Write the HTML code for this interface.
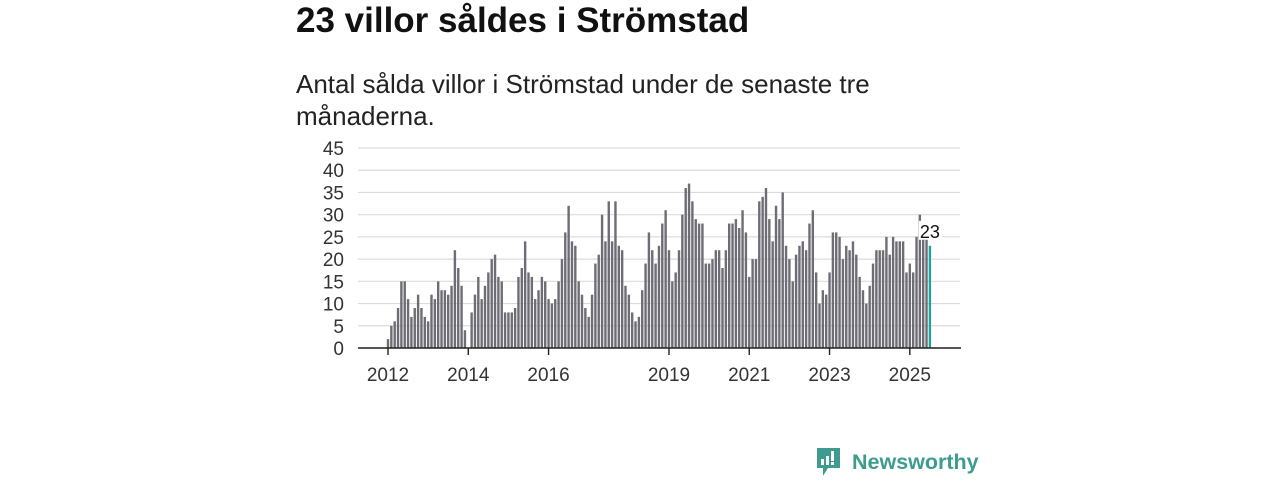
<!DOCTYPE html>
<html><head><meta charset="utf-8">
<style>
body{margin:0;width:1280px;height:480px;background:#fff;font-family:"Liberation Sans","DejaVu Sans",sans-serif;overflow:hidden;position:relative}
#title{position:absolute;left:296px;top:1px;font-size:35px;font-weight:bold;color:#111;margin:0;white-space:nowrap}
#sub{position:absolute;left:296px;top:68px;width:620px;font-size:26px;line-height:32px;color:#222;margin:0}
#chart{position:absolute;left:0;top:0}
#logo{position:absolute;left:815px;top:446px;display:flex;align-items:center}
#logo span{font-size:21.5px;font-weight:bold;color:#3d9c8f;margin-left:10px}
</style></head><body>
<h1 id="title">23 villor såldes i Strömstad</h1>
<p id="sub">Antal sålda villor i Strömstad under de senaste tre månaderna.</p>
<svg id="chart" width="1280" height="480"></svg>
<div id="logo">
<svg width="27" height="32"><path d="M2 2h23v20H13l-5 8v-8H2z" fill="#3d9c8f"/><rect x="6" y="13" width="3" height="6" fill="#fff"/><rect x="11" y="10" width="3" height="9" fill="#fff"/><rect x="16" y="5" width="3" height="10" fill="#fff"/><rect x="16" y="16" width="3" height="3" fill="#fff"/></svg>
<span>Newsworthy</span></div>
<script>
const values=[2,5,6,9,15,15,11,7,9,12,9,7,6,12,11,15,13,13,12,14,22,18,14,4,0,8,12,16,11,14,17,20,21,16,15,8,8,8,9,16,18,24,17,16,11,13,16,15,11,10,11,15,20,26,32,24,23,15,
12,9,7,12,19,21,30,24,33,24,33,23,22,14,12,8,6,7,13,19,26,22,19,23,28,31,22,15,17,22,30,36,37,33,29,28,28,19,19,20,22,22,18,22,28,28,29,27,31,26,16,20,20,33,34,36,
29,24,32,29,35,23,20,15,21,23,24,22,28,31,17,10,13,12,17,26,26,25,20,23,22,24,21,16,13,10,14,19,22,22,22,25,21,25,24,24,24,17,19,17,25,30,25,25,23];
const yTicks=[0,5,10,15,20,25,30,35,40,45];
const xTickYears=[2012,2014,2016,2019,2021,2023,2025];
const startYear=2012;
const svg=document.getElementById('chart');const NS='http://www.w3.org/2000/svg';
function y(v){return 348-v*200/45;}
function x(i){return 388+i*3.345;}
function mk(t,a){const e=document.createElementNS(NS,t);for(const k in a)e.setAttribute(k,a[k]);svg.appendChild(e);return e;}
yTicks.forEach(v=>{
 const g=mk('line',{x1:358,x2:960,y1:y(v),y2:y(v),stroke:'#dcdcdc','stroke-width':1.2});
 
 
 const t=mk('text',{x:344,y:y(v)+7,'text-anchor':'end','font-size':19,fill:'#333'});t.textContent=v;
 
 
});
values.forEach((v,i)=>{
 const last=i===values.length-1;
 const r=mk('rect',{x:x(i)-1.2,y:y(v),width:2.4,height:348-y(v),fill:last?'#1aa59f':'#6e6d75'});
 
 
});
const ax=mk('line',{x1:358,x2:961,y1:348,y2:348,stroke:'#222','stroke-width':1.6});


xTickYears.forEach(yr=>{
 const xx=x((yr-startYear)*12);
 const tk=mk('line',{x1:xx,x2:xx,y1:348,y2:355,stroke:'#222','stroke-width':1.4});
 
 
 const t=mk('text',{x:xx,y:381,'text-anchor':'middle','font-size':19,fill:'#333'});t.textContent=yr;
 
 
});
const li=values.length-1;
const bg=mk('rect',{x:x(li)-11,y:y(values[li])-25,width:23,height:19,fill:'#fff'});


const lbl=mk('text',{x:x(li)-10,y:y(values[li])-8,'font-size':18,fill:'#111'});lbl.textContent=values[li];


</script>
</body></html>
